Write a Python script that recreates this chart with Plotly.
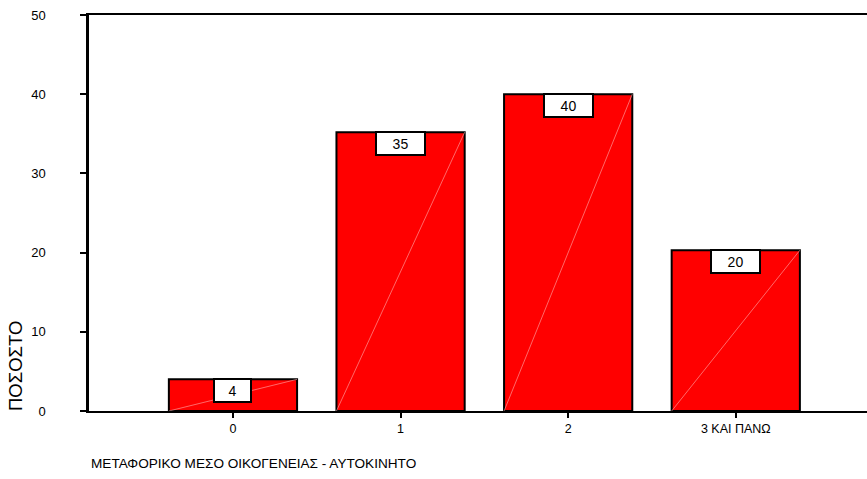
import plotly.graph_objects as go

categories = ["0", "1", "2", "3 ΚΑΙ ΠΑΝΩ"]
values = [4.0, 35.2, 40.0, 20.3]
labels = ["4", "35", "40", "20"]
y_ticks = [0, 10, 20, 30, 40, 50]
x_title = "ΜΕΤΑΦΟΡΙΚΟ ΜΕΣΟ ΟΙΚΟΓΕΝΕΙΑΣ - ΑΥΤΟΚΙΝΗΤΟ"
y_title = "ΠΟΣΟΣΤΟ"

FONT = "Arial, Liberation Sans, sans-serif"
BAR_W = 0.765
xs = list(range(len(categories)))

fig = go.Figure()
fig.add_trace(go.Bar(
    x=xs, y=values, width=BAR_W,
    marker=dict(color="#FF0000", line=dict(color="black", width=2)),
    hoverinfo="skip",
))

# faint diagonal artefact lines inside bars
for xi, v in zip(xs, values):
    fig.add_shape(type="line", xref="x", yref="y",
                  x0=xi - BAR_W / 2, y0=0, x1=xi + BAR_W / 2, y1=v,
                  line=dict(color="rgba(255,175,175,0.85)", width=0.7), layer="above")

# value labels in white boxes
for xi, v, t in zip(xs, values, labels):
    fig.add_annotation(x=xi, y=v, xref="x", yref="y", text=t, showarrow=False,
                       yanchor="top", xanchor="center",
                       font=dict(family=FONT, size=14, color="black"),
                       bgcolor="white", bordercolor="black", borderwidth=2,
                       borderpad=1, width=33 if len(t) == 1 else 45, height=19,
                       yshift=1)

fig.add_annotation(text=y_title, xref="paper", yref="paper",
                   x=-0.0951, y=0.1136, xanchor="center", yanchor="middle",
                   textangle=-90, showarrow=False,
                   font=dict(family=FONT, size=18.5, color="black"))
fig.add_annotation(text=x_title, xref="paper", yref="paper",
                   x=0, y=-0.1338, xanchor="left", yanchor="middle",
                   showarrow=False,
                   font=dict(family=FONT, size=13.6, color="black"))

fig.update_layout(
    width=867, height=479,
    margin=dict(l=89, r=0, t=15, b=68),
    paper_bgcolor="white", plot_bgcolor="white",
    showlegend=False,
    font=dict(family=FONT, size=13, color="black"),
)
fig.update_xaxes(
    range=[-0.859, 3.783], tickvals=xs, ticktext=categories,
    showgrid=False, zeroline=False,
    showline=True, linecolor="black", linewidth=1.5, mirror=True,
    ticks="outside", ticklen=5, tickwidth=1.5, tickcolor="black",
    tickfont=dict(family=FONT, size=12.5, color="black"),
)
fig.update_yaxes(
    range=[0, 50], tickvals=y_ticks,
    showgrid=False, zeroline=False,
    showline=True, linecolor="black", linewidth=2.5,
    ticks="outside", ticklen=6, tickwidth=1.5, tickcolor="black",
    ticklabelstandoff=32,
    tickfont=dict(family=FONT, size=13, color="black"),
)

fig.write_html("out.html")
